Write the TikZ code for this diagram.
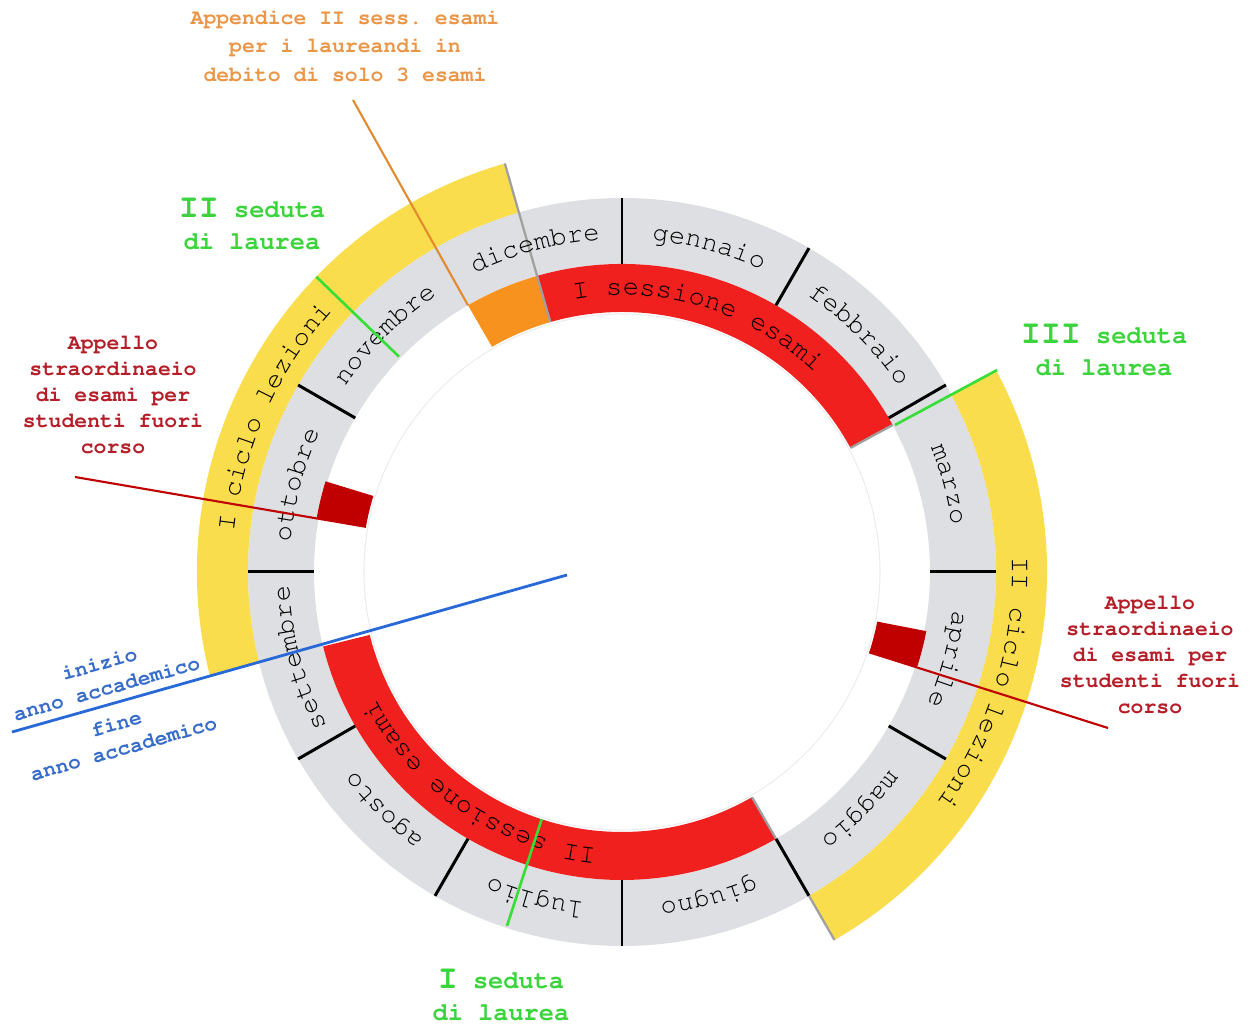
\documentclass[tikz,border=0pt]{standalone}
\usepackage[T1]{fontenc}
\usepackage{courier}
\usepackage{tikz}
\usetikzlibrary{decorations.text,positioning}

\definecolor{ringgrey}{RGB}{221,223,226}
\definecolor{lessonyellow}{RGB}{250,221,76}
\definecolor{examred}{RGB}{240,32,30}
\definecolor{appxorange}{RGB}{247,146,30}
\definecolor{appxline}{RGB}{226,138,48}
\definecolor{appxtext}{RGB}{234,150,72}
\definecolor{graduategreen}{RGB}{55,222,55}
\definecolor{graduatetext}{RGB}{60,212,60}
\definecolor{extrared}{RGB}{192,0,0}
\definecolor{extratext}{RGB}{180,30,40}
\definecolor{yearblue}{RGB}{40,105,215}
\definecolor{yeartext}{RGB}{55,108,200}
\definecolor{edgegrey}{RGB}{160,160,160}

\newcommand\monthfont{\fontsize{15.5}{15.5}\selectfont\ttfamily}
\newcommand\notefont{\fontsize{12.2}{14.8}\selectfont\ttfamily\bfseries}
\newcommand\appxfont{\fontsize{12.2}{16}\selectfont\ttfamily\bfseries}
\newcommand\sedfont{\fontsize{14.4}{18.2}\selectfont\ttfamily\bfseries}
\newcommand\bigroman[1]{{\fontsize{19}{19}\selectfont #1}}

\tikzset{
  monthsep/.style={line width=1.7pt,black},
  cutline/.style={line width=1.3pt,edgegrey},
  seduta/.style={line width=1.5pt,graduategreen},
  appello/.style={line width=1.2pt,extrared},
  appnote/.style={font=\notefont,text=extratext,align=center},
  sednote/.style={font=\sedfont,text=graduatetext,align=center},
  yearnote/.style={font=\notefont,text=yeartext,align=center,rotate=15.8},
}

% ring piece: colour, from angle, to angle, inner and outer radius
\newcommand\ringseg[5]{\fill[#1] (#2:#4) arc[start angle=#2,end angle=#3,radius=#4]
  -- (#3:#5) arc[start angle=#3,end angle=#2,radius=#5] -- cycle;}
% text bent on the ring, centred at an angle, read clockwise
\newcommand\ringtext[3]{\path[decorate,decoration={text along path,text align=center,text={#3}}]
  ({#1+45}:#2) arc[start angle={#1+45},end angle={#1-45},radius=#2];}

\begin{document}
\begin{tikzpicture}[x=0.02cm,y=0.02cm]
  \useasboundingbox (-622,-454) rectangle (632,572);
  % rings
  \fill[ringgrey,even odd rule] (0,0) circle[radius=374] circle[radius=308];
  \draw[gray!15,line width=0.6pt] (0,0) circle[radius=258];
  \ringseg{lessonyellow}{194}{106}{374}{425}
  \ringseg{lessonyellow}{28.3}{-60}{374}{425}
  \ringseg{examred}{106}{28.5}{260}{308}
  \ringseg{examred}{-60}{-166}{260}{308}
  \ringseg{appxorange}{120}{106}{260}{308}
  \ringseg{extrared}{170}{163}{260}{310}
  \ringseg{extrared}{-11}{-18}{260}{310}
  \foreach \a in {90,60,30,0,-30,-60,-90,-120,-150,180,150}
    \draw[monthsep] (\a:308) -- (\a:374);
  \draw[cutline] (106:260) -- (106:425);
  \draw[cutline] (28.5:260) -- (28.5:308);
  \draw[cutline] (-60:260) -- (-60:308);
  \draw[cutline] (-60:374) -- (-60:425);

  % months
  \ringtext{75}{333}{|\monthfont|gennaio}
  \ringtext{45}{333}{|\monthfont|febbraio}
  \ringtext{15}{333}{|\monthfont|marzo}
  \ringtext{-15}{333}{|\monthfont|aprile}
  \ringtext{-45}{333}{|\monthfont|maggio}
  \ringtext{-75}{333}{|\monthfont|giugno}
  \ringtext{-105}{333}{|\monthfont|luglio}
  \ringtext{-135}{333}{|\monthfont|agosto}
  \ringtext{-165}{333}{|\monthfont|settembre}
  \ringtext{165}{333}{|\monthfont|ottobre}
  \ringtext{135}{333}{|\monthfont|novembre}
  \ringtext{105}{333}{|\monthfont|dicembre}
  % sessions and lessons
  \ringtext{73}{277}{|\monthfont|I sessione esami}
  \ringtext{-124}{277}{|\monthfont|II sessione esami}
  \ringtext{156}{390}{|\monthfont|I ciclo lezioni}
  \ringtext{-17}{390}{|\monthfont|II ciclo lezioni}

  % graduation days
  \draw[seduta] (136:310) -- (136:425);
  \draw[seduta] (28.3:310) -- (28.3:426);
  \draw[seduta] (-108:260) -- (-108:372);
  \node[sednote] (sed2) at (-370,348) {\bigroman{II} seduta\\di laurea};
  \node[sednote] (sed3) at (482,222) {\bigroman{III} seduta\\di laurea};
  \node[sednote] (sed1) at (-121,-423) {\bigroman{I} seduta\\di laurea};

  % extra calls
  \node[appnote] (apL note) at (-509,177) {Appello\\straordinaeio\\di esami per\\studenti fuori\\corso};
  \node[appnote] (apR note) at (528,-83) {Appello\\straordinaeio\\di esami per\\studenti fuori\\corso};
  \coordinate (apL tail) at (-547,95);
  \coordinate (apL) at (170:260);
  \coordinate (apR tail) at (486,-156);
  \coordinate (apR) at (-18:260);
  \draw[appello] (apL tail) -- (apL);
  \draw[appello] (apR) -- (apR tail);

  % appendix
  \node[font=\appxfont,text=appxtext,align=center] (appx) at (-277,526)
    {Appendice II sess.\ esami\\per i laureandi in\\debito di solo 3 esami};
  \coordinate (appx tail) at (-269,472);
  \coordinate (appx tip) at (120:308);
  \draw[appxline,line width=1.2pt] (appx tail) -- (appx tip);

  % academic year
  \coordinate (year in) at (-55,-3);
  \coordinate (year out) at (-610,-160);
  \draw[yearblue,line width=1.6pt] (year in) -- (year out);
  \node[yearnote] (start) at (-519,-104) {inizio\\anno accademico};
  \node[yearnote] (end) at (-502,-164) {fine\\anno accademico};
\end{tikzpicture}
\end{document}
